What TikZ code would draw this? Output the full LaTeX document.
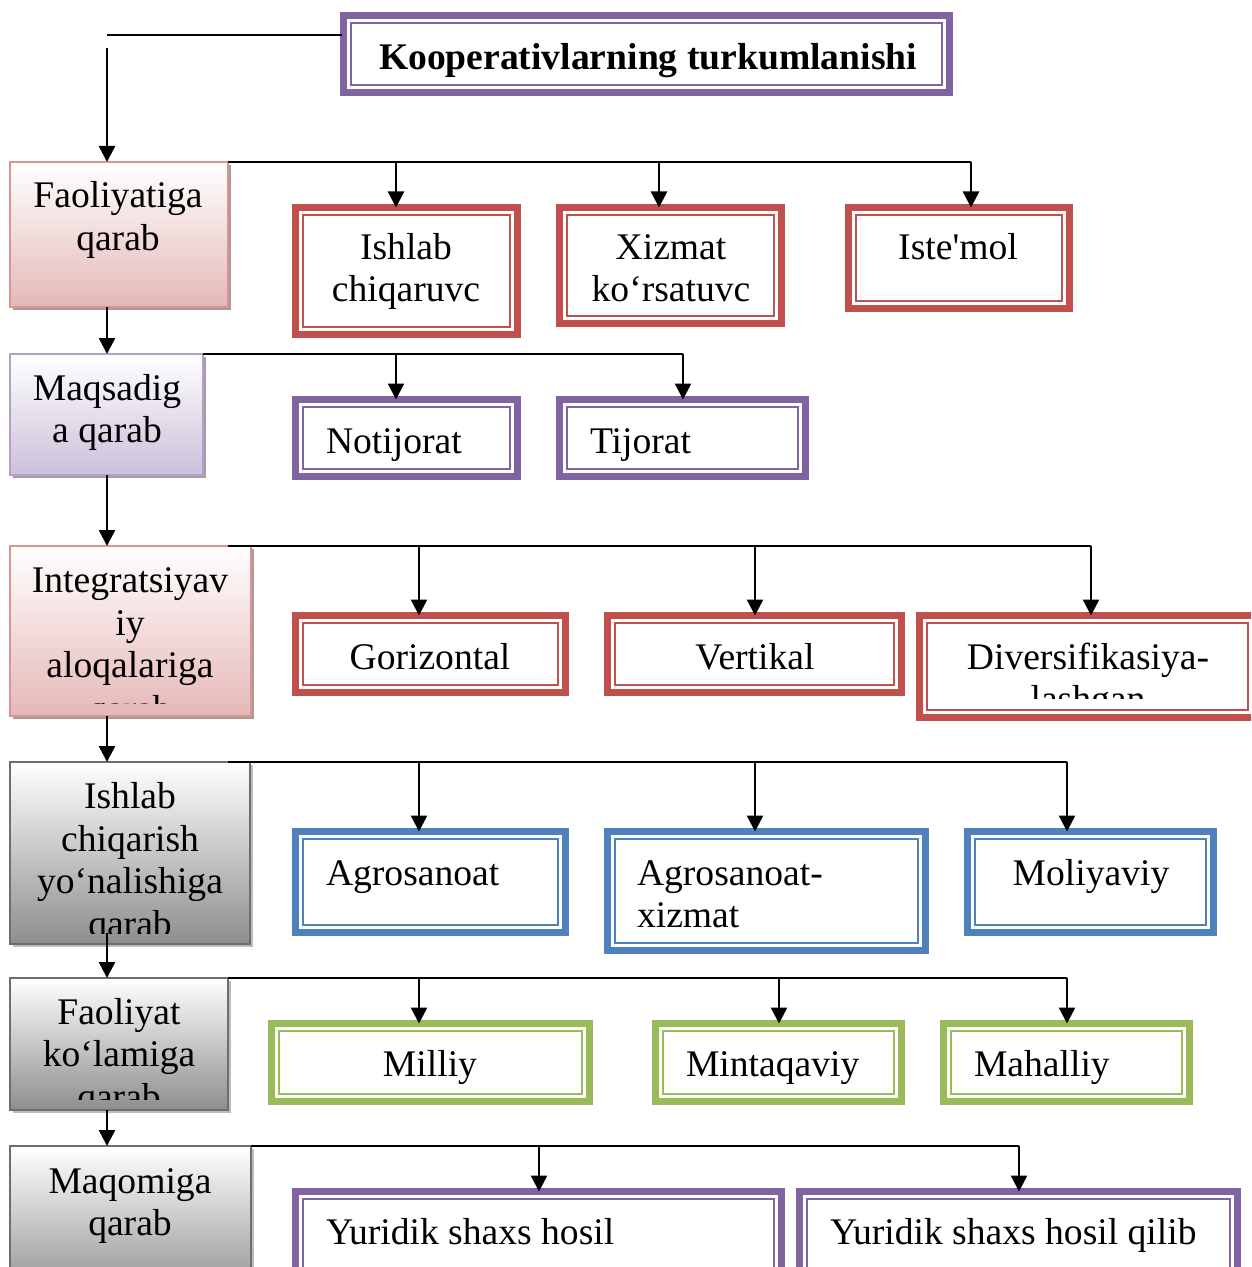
\documentclass[tikz,border=0pt]{standalone}
\usepackage{fontspec}
\setmainfont{Liberation Serif}[Ligatures=TeXOff]
\usetikzlibrary{arrows.meta,shadows}
\definecolor{cred}{HTML}{C0504D}
\definecolor{cblue}{HTML}{4F81BD}
\definecolor{cgreen}{HTML}{9BBB59}
\definecolor{cpurple}{HTML}{8064A2}
\definecolor{pinkbot}{HTML}{E5B8B7}
\definecolor{pinkbd}{HTML}{D99594}
\definecolor{pinksh}{HTML}{B09898}
\definecolor{lavbot}{HTML}{CCC0DA}
\definecolor{lavbd}{HTML}{B2A1C7}
\definecolor{lavsh}{HTML}{A39CAE}
\definecolor{graybot}{HTML}{8E8E8E}
\definecolor{graybd}{HTML}{6E6E6E}
\definecolor{graysh}{HTML}{BDBDBD}
\tikzset{
  dbox/.style={draw=#1, line width=3.5pt, inner sep=0pt, outer sep=0pt, fill=white,
    path picture={\draw[#1, line width=1pt]
      ([shift={(3.75pt,3.75pt)}]path picture bounding box.south west) rectangle
      ([shift={(-3.75pt,-3.75pt)}]path picture bounding box.north east);}},
  lbox/.style n args={3}{draw=#2, line width=1pt, inner sep=0pt, outer sep=0pt,
    top color=white, bottom color=#1,
    drop shadow={shadow xshift=1.6pt, shadow yshift=-1.6pt, fill=#3, opacity=1}},
  pinkbox/.style={lbox={pinkbot}{pinkbd}{pinksh}},
  lavbox/.style={lbox={lavbot}{lavbd}{lavsh}},
  graybox/.style={lbox={graybot}{graybd}{graysh}},
  txt/.style={font=\fontsize{18.8}{21.5}\selectfont, inner sep=0pt, outer sep=0pt, anchor=base},
  txtl/.style={txt, anchor=base west},
  ln/.style={draw=black, line width=1pt},
  arr/.style={draw=black, line width=1.2pt, -{Triangle[width=8pt,length=8pt]}}
}
\newcommand\DB[6]{\node[dbox=#6, minimum width={(#4-#2-7)*0.5pt}, minimum height={(#5-#3-7)*0.5pt}] (#1) at ({(#2+#4)/2},{(#3+#5)/2}) {};}
\newcommand\LB[6]{\node[#6, minimum width={(#4-#2)*0.5pt}, minimum height={(#5-#3)*0.5pt}] (#1) at ({(#2+#4)/2},{(#3+#5)/2}) {};}
\begin{document}
\begin{tikzpicture}[x=0.5pt,y=-0.5pt]
\useasboundingbox (0,0) rectangle (1251,1267);
\clip (0,0) rectangle (1251,1267);
\fill[white] (0,0) rectangle (1251,1267);

% title
\DB{title}{340}{12}{953}{96}{cpurple}
\node[txt, font=\fontsize{18.8}{21.5}\selectfont\bfseries] (ttl) at (648,70) {Kooperativlarning turkumlanishi};

% left boxes
\LB{faol}{10}{162}{228}{307}{pinkbox}
\LB{maqs}{10}{354}{203}{475}{lavbox}
\LB{integ}{10}{546}{251}{716}{pinkbox}
\LB{ishl}{10}{762}{250}{944}{graybox}
\LB{faoly}{10}{978}{228}{1110}{graybox}
\LB{maqom}{10}{1146}{251}{1300}{graybox}

\node[txt] (t1a) at (118,208) {Faoliyatiga};
\node[txt] (t1b) at (118,251) {qarab};
\node[txt] (t2a) at (107,400) {Maqsadig};
\node[txt] (t2b) at (107,442) {a qarab};
\begin{scope}
\clip (10,546) rectangle (251,703);
\node[txt] (t3a) at (130,592) {Integratsiyav};
\node[txt] (t3b) at (130,635) {iy};
\node[txt] (t3c) at (130,677) {aloqalariga};
\node[txt] (t3d) at (130,721) {qarab};
\end{scope}
\begin{scope}
\clip (10,762) rectangle (250,933);
\node[txt] (t4a) at (130,808) {Ishlab};
\node[txt] (t4b) at (130,851) {chiqarish};
\node[txt] (t4c) at (130,893) {yo‘nalishiga};
\node[txt] (t4d) at (130,936) {qarab};
\end{scope}
\begin{scope}
\clip (10,978) rectangle (228,1099);
\node[txt] (t5a) at (119,1024) {Faoliyat};
\node[txt] (t5b) at (119,1066) {ko‘lamiga};
\node[txt] (t5c) at (119,1109) {qarab};
\end{scope}
\node[txt] (t6a) at (130,1193) {Maqomiga};
\node[txt] (t6b) at (130,1235) {qarab};

% right boxes
\DB{ishc}{292}{204}{521}{338}{cred}
\DB{xiz}{556}{204}{785}{327}{cred}
\DB{ist}{845}{204}{1073}{312}{cred}
\DB{notij}{292}{396}{521}{480}{cpurple}
\DB{tij}{556}{396}{809}{480}{cpurple}
\DB{gor}{292}{612}{569}{696}{cred}
\DB{ver}{604}{612}{905}{696}{cred}
\DB{div}{916}{612}{1259}{721}{cred}
\DB{agro}{292}{828}{569}{936}{cblue}
\DB{agrx}{604}{828}{929}{954}{cblue}
\DB{mol}{964}{828}{1217}{936}{cblue}
\DB{mil}{268}{1020}{593}{1105}{cgreen}
\DB{mint}{652}{1020}{905}{1105}{cgreen}
\DB{mah}{940}{1020}{1193}{1105}{cgreen}
\DB{yur}{292}{1188}{785}{1290}{cpurple}
\DB{yurq}{796}{1188}{1241}{1290}{cpurple}

\node[txt] (r1a) at (406,260) {Ishlab};
\node[txt] (r1b) at (406,302) {chiqaruvc};
\node[txt] (r1c) at (671,260) {Xizmat};
\node[txt] (r1d) at (671,302) {ko‘rsatuvc};
\node[txt] (r1e) at (958,260) {Iste'mol};
\node[txtl] (r2a) at (326,453) {Notijorat};
\node[txtl] (r2b) at (590,453) {Tijorat};
\node[txt] (r3a) at (430,669) {Gorizontal};
\node[txt] (r3b) at (755,669) {Vertikal};
\node[txt] (r3c) at (1088,669) {Diversifikasiya-};
\begin{scope}
\clip (916,612) rectangle (1259,698);
\node[txt] (r3d) at (1088,711) {lashgan};
\end{scope}
\node[txtl] (r4a) at (326,885) {Agrosanoat};
\node[txtl] (r4b) at (637,885) {Agrosanoat-};
\node[txtl] (r4c) at (637,927) {xizmat};
\node[txt] (r4d) at (1091,885) {Moliyaviy};
\node[txt] (r5a) at (430,1076) {Milliy};
\node[txtl] (r5b) at (686,1076) {Mintaqaviy};
\node[txtl] (r5c) at (974,1076) {Mahalliy};
\node[txtl] (r6a) at (326,1244) {Yuridik shaxs hosil};
\node[txtl] (r6b) at (830,1244) {Yuridik shaxs hosil qilib};

% title connector
\coordinate (tl) at (342,35);
\coordinate (tc) at (107,35);
\coordinate (ta) at (107,48);
\draw[ln] (tl) -- (tc);
\draw[arr] (ta) -- (ta |- faol.north);

% left chain
\coordinate (v1) at (107,307);
\coordinate (v2) at (107,475);
\coordinate (v3) at (107,716);
\coordinate (v4) at (107,933);
\coordinate (v5) at (107,1110);
\draw[arr] (v1) -- (v1 |- maqs.north);
\draw[arr] (v2) -- (v2 |- integ.north);
\draw[arr] (v3) -- (v3 |- ishl.north);
\draw[arr] (v4) -- (v4 |- faoly.north);
\draw[arr] (v5) -- (v5 |- maqom.north);

% row 1
\coordinate (d1a) at (396,162);
\coordinate (d1b) at (659,162);
\coordinate (d1c) at (971,162);
\draw[ln] (faol.north east) -- (d1c);
\draw[arr] (d1a) -- (d1a |- ishc.north);
\draw[arr] (d1b) -- (d1b |- xiz.north);
\draw[arr] (d1c) -- (d1c |- ist.north);
% row 2
\coordinate (d2a) at (396,354);
\coordinate (d2b) at (683,354);
\draw[ln] (maqs.north east) -- (d2b);
\draw[arr] (d2a) -- (d2a |- notij.north);
\draw[arr] (d2b) -- (d2b |- tij.north);
% row 3
\coordinate (r3s) at (228,546);
\coordinate (d3a) at (419,546);
\coordinate (d3b) at (755,546);
\coordinate (d3c) at (1091,546);
\draw[ln] (r3s) -- (d3c);
\draw[arr] (d3a) -- (d3a |- gor.north);
\draw[arr] (d3b) -- (d3b |- ver.north);
\draw[arr] (d3c) -- (d3c |- div.north);
% row 4
\coordinate (r4s) at (228,762);
\coordinate (d4a) at (419,762);
\coordinate (d4b) at (755,762);
\coordinate (d4c) at (1067,762);
\draw[ln] (r4s) -- (d4c);
\draw[arr] (d4a) -- (d4a |- agro.north);
\draw[arr] (d4b) -- (d4b |- agrx.north);
\draw[arr] (d4c) -- (d4c |- mol.north);
% row 5
\coordinate (d5a) at (419,978);
\coordinate (d5b) at (779,978);
\coordinate (d5c) at (1067,978);
\draw[ln] (faoly.north east) -- (d5c);
\draw[arr] (d5a) -- (d5a |- mil.north);
\draw[arr] (d5b) -- (d5b |- mint.north);
\draw[arr] (d5c) -- (d5c |- mah.north);
% row 6
\coordinate (d6a) at (539,1146);
\coordinate (d6b) at (1019,1146);
\draw[ln] (maqom.north east) -- (d6b);
\draw[arr] (d6a) -- (d6a |- yur.north);
\draw[arr] (d6b) -- (d6b |- yurq.north);
\end{tikzpicture}
\end{document}
